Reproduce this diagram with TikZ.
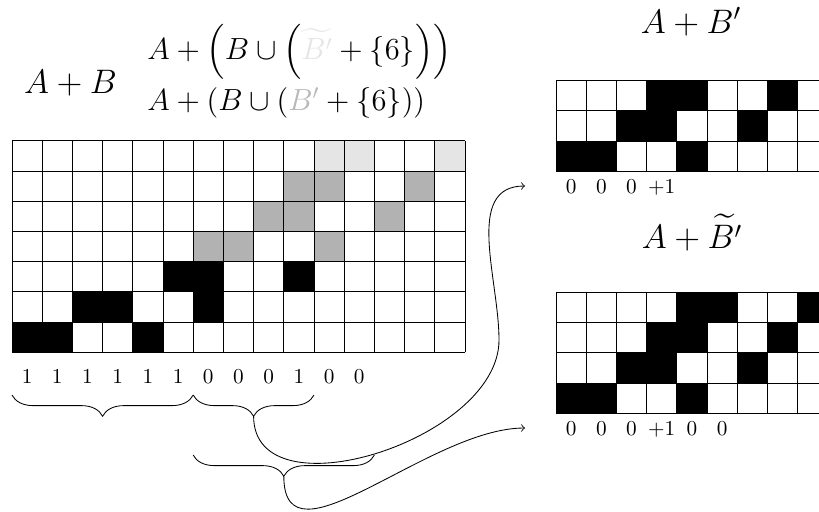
\RequirePackage{fix-cm}
\documentclass[tikz,border=0pt]{standalone}
\usepackage{amsmath}
\usetikzlibrary{decorations.pathreplacing}
\begin{document}
\begin{tikzpicture}[x=0.016556cm,y=-0.016556cm,
  txt/.style={inner sep=0pt},
  big/.style={txt,font=\fontsize{16}{19}\selectfont},
  mid/.style={txt,font=\fontsize{14.4}{17}\selectfont},
  lab/.style={txt,anchor=base},
  bk/.style={fill=black},
  gB/.style={fill=black!30},
  gL/.style={fill=black!10},
  cellgrid/.style={step=0.5cm},
  bracedeco/.style={decorate,decoration={brace,amplitude=10pt}},
  conn/.style={->}]
\useasboundingbox (0,0) rectangle (819,511);
\clip (0,0) rectangle (819,511);
% titles
\node[big,anchor=base] (ab) at (70.5,93) {$A+B$};
\node[mid,anchor=base west] (f1) at (147,59) {$A+\Big(B\cup\Big({\color{black!10}\widetilde{B'}}+\{6\}\Big)\Big)$};
\node[mid,anchor=base west] (f2) at (147,110.5) {$A+(B\cup({\color{black!28}B'}+\{6\}))$};
\node[big,anchor=base] (tt1) at (691,33) {$A+B'$};
\node[big,anchor=base] (tt2) at (692,248) {$A+\widetilde{B'}$};
% main grid
\begin{scope}[shift={(12,352.3)},x=0.5cm,y=0.5cm]
  \foreach \c/\r in {1/1,2/1,5/1,3/2,4/2,7/2,6/3,7/3,10/3}
    \path[bk] (\c-1,\r-1) rectangle (\c,\r);
  \foreach \c/\r in {7/4,8/4,11/4,9/5,10/5,13/5,10/6,11/6,14/6}
    \path[gB] (\c-1,\r-1) rectangle (\c,\r);
  \foreach \c/\r in {11/7,12/7,15/7}
    \path[gL] (\c-1,\r-1) rectangle (\c,\r);
  \draw[cellgrid] (0,0) grid (15,7);
\end{scope}
% grid 1
\begin{scope}[shift={(556,171.3)},x=0.5cm,y=0.5cm]
  \foreach \c/\r in {1/1,2/1,5/1,3/2,4/2,7/2,4/3,5/3,8/3}
    \path[bk] (\c-1,\r-1) rectangle (\c,\r);
  \draw[cellgrid] (0,0) grid (9,3);
\end{scope}
% grid 2
\begin{scope}[shift={(556,413.3)},x=0.5cm,y=0.5cm]
  \foreach \c/\r in {1/1,2/1,5/1,3/2,4/2,7/2,4/3,5/3,8/3,5/4,6/4,9/4}
    \path[bk] (\c-1,\r-1) rectangle (\c,\r);
  \draw[cellgrid] (0,0) grid (9,4);
\end{scope}
% labels
\foreach \v [count=\i] in {1,1,1,1,1,1,0,0,0,1,0,0}
  \node[lab] (m\i) at ({12+(\i-0.5)*30.2},383) {$\v$};
\foreach \v [count=\i] in {0,0,0,+1}
  \node[lab] (p\i) at ({556+(\i-0.5)*30.2},193) {$\v$};
\foreach \v [count=\i] in {0,0,0,+1,0,0}
  \node[lab] (q\i) at ({556+(\i-0.5)*30.2},435) {$\v$};
% braces
\coordinate (b1a) at (12,395);
\coordinate (b1b) at (193.2,395);
\coordinate (b2b) at (314,395);
\coordinate (b3a) at (193.2,455);
\coordinate (b3b) at (374.4,455);
\draw[bracedeco] (b1b) -- (b1a);
\draw[bracedeco] (b2b) -- (b1b);
\draw[bracedeco] (b3b) -- (b3a);
% connectors
\coordinate (b2tip) at (253.6,416.2);
\coordinate (b3tip) at (283.8,476.2);
\coordinate (bend) at (499,340);
\coordinate (e1) at (525,186);
\coordinate (e2) at (525,428);
\draw[conn] (b2tip) to[out=-90,in=-90] (bend) to[out=90,in=180] (e1);
\draw[conn] (b3tip) to[out=-90,in=180] (e2);
\end{tikzpicture}
\end{document}
